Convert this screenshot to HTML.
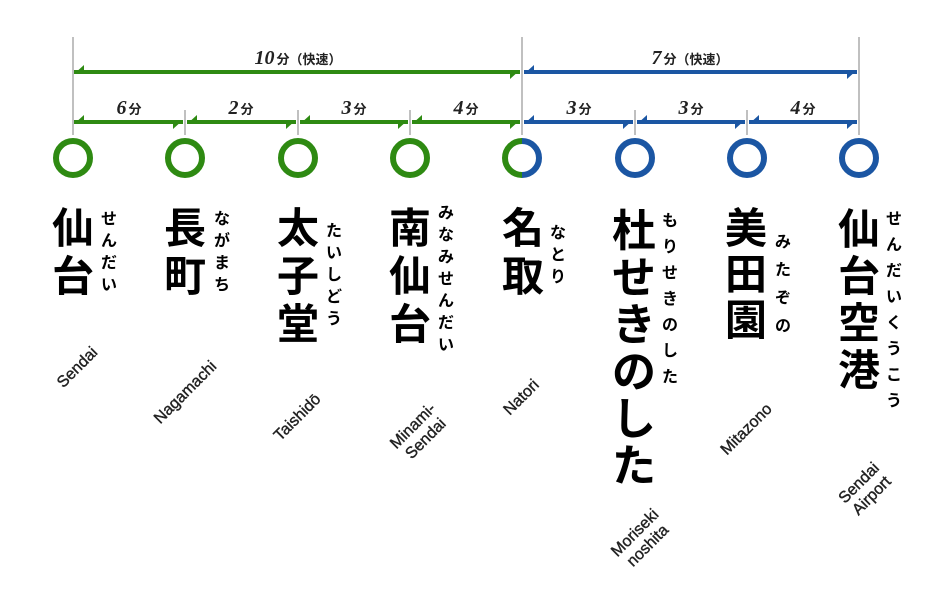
<!DOCTYPE html>
<html><head><meta charset="utf-8"><style>
body{margin:0;background:#fff;}
#w{position:relative;width:951px;height:598px;overflow:hidden;font-family:"Liberation Sans","Noto Sans CJK JP",sans-serif;}
.k{position:absolute;font-family:"Noto Sans CJK JP",sans-serif;font-weight:700;font-size:42px;width:46px;text-align:center;color:#000;}
.k span{display:block;height:48px;line-height:48px;overflow:visible;}
.f{position:absolute;font-family:"Noto Sans CJK JP",sans-serif;font-weight:700;font-size:16px;width:18px;text-align:center;color:#000;}
.f span{display:block;height:22px;line-height:22px;}
.e{position:absolute;font-family:"Liberation Sans",sans-serif;font-size:16px;font-weight:400;-webkit-text-stroke:0.4px #222;color:#222;transform:translate(-50%,-50%) rotate(-45deg);white-space:nowrap;text-align:center;line-height:18px;}
</style></head><body><div id="w">
<svg width="951" height="598" style="position:absolute;left:0;top:0">
<g stroke="#aaa" stroke-width="1.5">
<line x1="73" y1="37" x2="73" y2="135"/><line x1="522" y1="37" x2="522" y2="135"/><line x1="859" y1="37" x2="859" y2="135"/>
<line x1="185" y1="110" x2="185" y2="135"/><line x1="298" y1="110" x2="298" y2="135"/><line x1="410" y1="110" x2="410" y2="135"/>
<line x1="635" y1="110" x2="635" y2="135"/><line x1="747" y1="110" x2="747" y2="135"/>
</g>
<g stroke-width="4" fill="none">
<line x1="74" y1="72" x2="520" y2="72" stroke="#2e8a12"/>
<line x1="74" y1="122" x2="183" y2="122" stroke="#2e8a12"/>
<line x1="187" y1="122" x2="296" y2="122" stroke="#2e8a12"/>
<line x1="300" y1="122" x2="408" y2="122" stroke="#2e8a12"/>
<line x1="412" y1="122" x2="520" y2="122" stroke="#2e8a12"/>
<line x1="524" y1="72" x2="857" y2="72" stroke="#1b56a3"/>
<line x1="524" y1="122" x2="633" y2="122" stroke="#1b56a3"/>
<line x1="637" y1="122" x2="745" y2="122" stroke="#1b56a3"/>
<line x1="749" y1="122" x2="857" y2="122" stroke="#1b56a3"/>
</g>
<g fill="#2e8a12">
<polygon points="74,74 84,65 84,74"/><polygon points="520,70 510,79 510,70"/>
<polygon points="74,124 84,115 84,124"/><polygon points="183,120 173,129 173,120"/>
<polygon points="187,124 197,115 197,124"/><polygon points="296,120 286,129 286,120"/>
<polygon points="300,124 310,115 310,124"/><polygon points="408,120 398,129 398,120"/>
<polygon points="412,124 422,115 422,124"/><polygon points="520,120 510,129 510,120"/>
</g>
<g fill="#1b56a3">
<polygon points="524,74 534,65 534,74"/><polygon points="857,70 847,79 847,70"/>
<polygon points="524,124 534,115 534,124"/><polygon points="633,120 623,129 623,120"/>
<polygon points="637,124 647,115 647,124"/><polygon points="745,120 735,129 735,120"/>
<polygon points="749,124 759,115 759,124"/><polygon points="857,120 847,129 847,120"/>
</g>
<g font-family="Liberation Serif,serif" font-style="italic" font-weight="700" font-size="20" text-anchor="middle" fill="#222">
<text x="298" y="64">10<tspan font-family="Noto Sans CJK JP,sans-serif" font-style="normal" font-size="13" dx="2">分（快速）</tspan></text>
<text x="690" y="64">7<tspan font-family="Noto Sans CJK JP,sans-serif" font-style="normal" font-size="13" dx="2">分（快速）</tspan></text>
<text x="129" y="114">6<tspan font-family="Noto Sans CJK JP,sans-serif" font-style="normal" font-size="13" dx="2">分</tspan></text>
<text x="241" y="114">2<tspan font-family="Noto Sans CJK JP,sans-serif" font-style="normal" font-size="13" dx="2">分</tspan></text>
<text x="354" y="114">3<tspan font-family="Noto Sans CJK JP,sans-serif" font-style="normal" font-size="13" dx="2">分</tspan></text>
<text x="466" y="114">4<tspan font-family="Noto Sans CJK JP,sans-serif" font-style="normal" font-size="13" dx="2">分</tspan></text>
<text x="579" y="114">3<tspan font-family="Noto Sans CJK JP,sans-serif" font-style="normal" font-size="13" dx="2">分</tspan></text>
<text x="691" y="114">3<tspan font-family="Noto Sans CJK JP,sans-serif" font-style="normal" font-size="13" dx="2">分</tspan></text>
<text x="803" y="114">4<tspan font-family="Noto Sans CJK JP,sans-serif" font-style="normal" font-size="13" dx="2">分</tspan></text>
</g>
<g fill="none" stroke-width="6">
<circle cx="73" cy="158" r="17" stroke="#2e8a12"/>
<circle cx="185" cy="158" r="17" stroke="#2e8a12"/>
<circle cx="298" cy="158" r="17" stroke="#2e8a12"/>
<circle cx="410" cy="158" r="17" stroke="#2e8a12"/>
<path d="M522,141 A17,17 0 0 0 522,175" stroke="#2e8a12"/>
<path d="M522,141 A17,17 0 0 1 522,175" stroke="#1b56a3"/>
<circle cx="635" cy="158" r="17" stroke="#1b56a3"/>
<circle cx="747" cy="158" r="17" stroke="#1b56a3"/>
<circle cx="859" cy="158" r="17" stroke="#1b56a3"/>
</g>
</svg>
<div class="k" style="left:50px;top:202px"><span>仙</span><span>台</span></div>
<div class="f" style="left:100px;top:206px"><span>せ</span><span>ん</span><span>だ</span><span>い</span></div>
<div class="k" style="left:162px;top:202px"><span>長</span><span>町</span></div>
<div class="f" style="left:213px;top:206px"><span>な</span><span>が</span><span>ま</span><span>ち</span></div>
<div class="k" style="left:275px;top:202px"><span>太</span><span>子</span><span>堂</span></div>
<div class="f" style="left:325px;top:218px"><span>た</span><span>い</span><span>し</span><span>ど</span><span>う</span></div>
<div class="k" style="left:387px;top:202px"><span>南</span><span>仙</span><span>台</span></div>
<div class="f" style="left:437px;top:200px"><span>み</span><span>な</span><span>み</span><span>せ</span><span>ん</span><span>だ</span><span>い</span></div>
<div class="k" style="left:500px;top:202px"><span>名</span><span>取</span></div>
<div class="f" style="left:549px;top:220px"><span>な</span><span>と</span><span>り</span></div>
<div class="k" style="left:611px;top:204px;font-size:44px"><span style="height:47px;line-height:47px">杜</span><span style="height:47px;line-height:47px">せ</span><span style="height:47px;line-height:47px">き</span><span style="height:47px;line-height:47px">の</span><span style="height:47px;line-height:47px">し</span><span style="height:47px;line-height:47px">た</span></div>
<div class="f" style="left:661px;top:206px"><span style="height:26px;line-height:26px">も</span><span style="height:26px;line-height:26px">り</span><span style="height:26px;line-height:26px">せ</span><span style="height:26px;line-height:26px">き</span><span style="height:26px;line-height:26px">の</span><span style="height:26px;line-height:26px">し</span><span style="height:26px;line-height:26px">た</span></div>
<div class="k" style="left:723px;top:203px"><span style="height:46px;line-height:46px">美</span><span style="height:46px;line-height:46px">田</span><span style="height:46px;line-height:46px">園</span></div>
<div class="f" style="left:774px;top:226px"><span style="height:28px;line-height:28px">み</span><span style="height:28px;line-height:28px">た</span><span style="height:28px;line-height:28px">ぞ</span><span style="height:28px;line-height:28px">の</span></div>
<div class="k" style="left:836px;top:203px"><span style="height:47px;line-height:47px">仙</span><span style="height:47px;line-height:47px">台</span><span style="height:47px;line-height:47px">空</span><span style="height:47px;line-height:47px">港</span></div>
<div class="f" style="left:885px;top:204px"><span style="height:26px;line-height:26px">せ</span><span style="height:26px;line-height:26px">ん</span><span style="height:26px;line-height:26px">だ</span><span style="height:26px;line-height:26px">い</span><span style="height:26px;line-height:26px">く</span><span style="height:26px;line-height:26px">う</span><span style="height:26px;line-height:26px">こ</span><span style="height:26px;line-height:26px">う</span></div>
<div class="e" style="left:78px;top:368px">Sendai</div>
<div class="e" style="left:186px;top:393px">Nagamachi</div>
<div class="e" style="left:298px;top:418px">Taishidō</div>
<div class="e" style="left:420px;top:433px">Minami-<br>Sendai</div>
<div class="e" style="left:522px;top:398px">Natori</div>
<div class="e" style="left:642px;top:540px">Moriseki<br>noshita</div>
<div class="e" style="left:747px;top:430px">Mitazono</div>
<div class="e" style="left:866px;top:490px">Sendai<br>Airport</div>
</div></body></html>
